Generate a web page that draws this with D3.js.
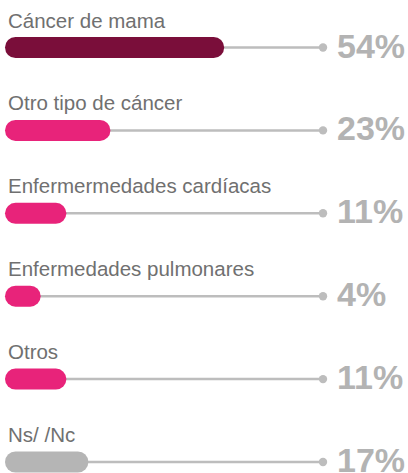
<!DOCTYPE html>
<html>
<head>
<meta charset="utf-8">
<script src="https://cdn.jsdelivr.net/npm/d3@7"></script>
<style>
  body { margin: 0; background: #fff; }
  svg { display: block; }
</style>
</head>
<body>
<svg id="viz" width="408" height="473"></svg>
<script>
// data
const categories = ["Cáncer de mama", "Otro tipo de cáncer", "Enfermermedades cardíacas",
                    "Enfermedades pulmonares", "Otros", "Ns/ /Nc"]
const values = [54, 23, 11, 4, 11, 17]
const labels = ["54%", "23%", "11%", "4%", "11%", "17%"]
const colors = ["#7a0e3a", "#e8237a", "#e8237a", "#e8237a", "#e8237a", "#b5b5b5"]

const svg = d3.select("svg#viz")
const BAR_H = 21
const DOT_X = 323

const x = d3.scaleLinear().domain([0, 100]).range([15.5, 382.5])
const y = d3.scaleLinear().domain([0, 5]).range([47.5, 462])

const rows = svg.selectAll("g.row").data(categories)
    .join("g")
    .attr("class", "row")
    .attr("transform", (d, i) => `translate(0, ${y(i)})`)

// grey track to the dot
rows.append("line")
    .attr("x1", x(0)).attr("x2", DOT_X)
    .attr("y1", 0).attr("y2", 0)
    .attr("stroke", "#bdbdbd")
    .attr("stroke-width", 2.5)

rows.append("circle")
    .attr("cx", DOT_X).attr("cy", 0)
    .attr("r", 4.2)
    .attr("fill", "#bdbdbd")

// the bar (round caps)
rows.append("line")
    .attr("x1", x(0))
    .attr("x2", (d, i) => x(values[i]))
    .attr("y1", 0).attr("y2", 0)
    .attr("stroke", (d, i) => colors[i])
    .attr("stroke-width", BAR_H)
    .attr("stroke-linecap", "round")

rows.append("text")
    .attr("x", 8)
    .attr("y", -20)
    .attr("fill", "#707070")
    .attr("font-family", "Liberation Sans, Arial, sans-serif")
    .attr("font-size", 20.5)
    .text(d => d)

rows.append("text")
    .attr("x", 337)
    .attr("y", 10)
    .attr("fill", "#b3b3b3")
    .attr("font-family", "Liberation Sans, Arial, sans-serif")
    .attr("font-weight", "bold")
    .attr("font-size", 34)
    .text((d, i) => labels[i])
</script>
</body>
</html>
